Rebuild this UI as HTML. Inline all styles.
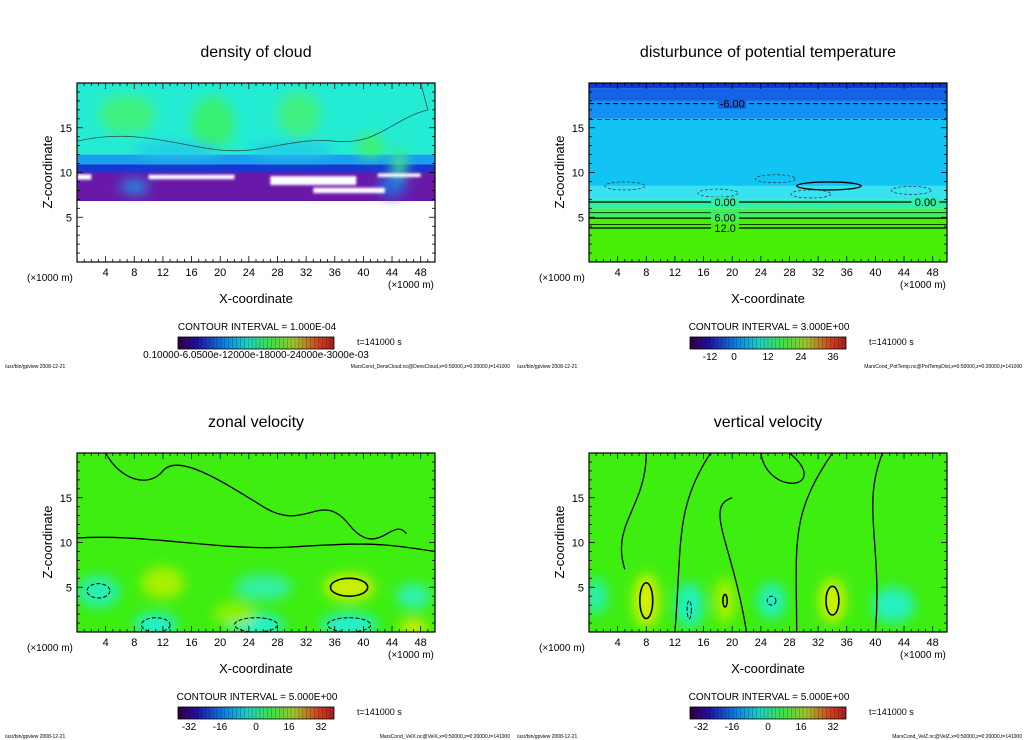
<!DOCTYPE html>
<html><head><meta charset="utf-8">
<style>
body{margin:0;background:#fff;width:1024px;height:740px;overflow:hidden;font-family:"Liberation Sans",sans-serif}
svg{position:absolute;left:0;top:0}
text{font-family:"Liberation Sans",sans-serif;fill:#000}
</style></head><body>
<svg id="s" width="1024" height="740"></svg>
<script>
const xTicks=[4,8,12,16,20,24,28,32,36,40,44,48];
const zTicks=[5,10,15];
const titles=["density of cloud","disturbunce of potential temperature","zonal velocity","vertical velocity"];
const intervals=["1.000E-04","3.000E+00","5.000E+00","5.000E+00"];
const cbLabels=[["0.10000-6.0500e-12000e-18000-24000e-3000e-03"],["-12","0","12","24","36"],["-32","-16","0","16","32"],["-32","-16","0","16","32"]];
const files=["MarsCond_DensCloud.nc@DensCloud,x=0:50000,z=0:20000,t=141000","MarsCond_PotTemp.nc@PotTempDist,x=0:50000,z=0:20000,t=141000","MarsCond_VelX.nc@VelX,x=0:50000,z=0:20000,t=141000","MarsCond_VelZ.nc@VelZ,x=0:50000,z=0:20000,t=141000"];
const bands1=[[12,20,"#24ecd4"],[10.9,12,"#1a9ef0"],[10,10.9,"#1838d0"],[6.8,10,"#6a18a8"],[0,6.8,"#ffffff"]];
const bands2=[[19.4,20,"#1038d0"],[18,19.4,"#1462e6"],[16,18,"#1292f2"],[8.5,16,"#12c4f4"],[7,8.5,"#38e2f0"],[6,7,"#30f0a8"],[5,6,"#40f060"],[0,5,"#48f008"]];
const blobs1=[[7,16.5,4,2.2,"#40f080"],[19,15.5,3,3,"#38f070"],[31,16.5,3,2.5,"#40f080"],[41,13,2,1.3,"#40f070"],[45,11,1,2,"#40e090"],[8,8.4,2,0.8,"#2090e0"],[44,8.5,2,1.2,"#2070e0"],[14,12.5,6,0.8,"#22c8e8"],[30,12.5,6,0.8,"#22c8e8"]];
const gaps1=[[1,9.5,1,0.3],[16,9.5,6,0.25],[33,9.1,6,0.5],[45,9.7,3,0.2],[38,8.0,5,0.3]];
const blobs3=[[3,4.5,3,1.8,"#28f0b0"],[11,0.8,3,1.3,"#20f0d0"],[25,0.8,4,1.3,"#20f0d0"],[38,0.8,4,1.3,"#20f0d0"],[26,5,4,1.5,"#30f0a0"],[47,4,2.5,1.4,"#30f0b0"],[12,5.5,3,1.8,"#a8f000"],[38,5,3.5,1.5,"#d0f000"],[47,0.5,2,0.9,"#d8f000"],[22,2,3,1.3,"#90f000"]];
const blobs4=[[8,3.5,1.8,3,"#d8f000"],[19,3.5,1.5,2.5,"#a8f000"],[34,3.5,1.8,2.5,"#d0f000"],[1,4,1.5,2,"#28f0b0"],[14,3,2,2.5,"#20f0c0"],[25.5,3.5,2,2,"#20f0c0"],[42.5,3,3,2,"#28f0c0"]];
const rings3=[[38,5,2.6,1.0,0],[3,4.6,1.6,0.8,1],[11,0.8,2,0.8,1],[25,0.8,3,0.8,1],[38,0.8,3,0.8,1]];
const rings4=[[8,3.5,0.9,2,0],[19,3.5,0.3,0.7,0],[34,3.5,0.9,1.6,0],[14,2.5,0.3,1,1],[25.5,3.5,0.6,0.5,1]];
const ns="http://www.w3.org/2000/svg";
const S=document.getElementById('s');
function el(t,a,p){const e=document.createElementNS(ns,t);for(const k in a)e.setAttribute(k,a[k]);(p||S).appendChild(e);return e;}
const defs=el('defs',{});
const f=el('filter',{id:'bl',x:'-50%',y:'-50%',width:'200%',height:'200%'},defs);el('feGaussianBlur',{stdDeviation:'6'},f);
const f2=el('filter',{id:'bl2',x:'-20%',y:'-20%',width:'140%',height:'140%'},defs);el('feGaussianBlur',{stdDeviation:'1.2'},f2);
const rg=el('linearGradient',{id:'rb',x1:0,x2:1,y1:0,y2:0},defs);
[["0","#300040"],["0.12","#2010a0"],["0.3","#1080e0"],["0.45","#20d0c0"],["0.6","#40e040"],["0.75","#a0c030"],["0.9","#d04020"],["1","#a02020"]].forEach(s=>el('stop',{offset:s[0],'stop-color':s[1]},rg));
function panel(i,ox,oy){
  const X0=77+ox,X1=435+ox,Y0=83+oy,Y1=262+oy;
  const sx=x=>X0+(X1-X0)*x/50, sz=z=>Y1-(Y1-Y0)*z/20;
  const g=el('g',{});
  
  
  const cp=el('clipPath',{id:'c'+i},defs);el('rect',{x:X0,y:Y0,width:X1-X0,height:Y1-Y0},cp);
  const pg=el('g',{'clip-path':'url(#c'+i+')'},g);
  
  
  const bands=i==0?bands1:i==1?bands2:[[0,20,"#3eee10"]];
  bands.forEach(b=>{const r=el('rect',{x:X0,y:sz(b[1]),width:X1-X0,height:sz(b[0])-sz(b[1]),fill:b[2]},pg);});
  const bl=i==0?blobs1:i==2?blobs3:i==3?blobs4:[];
  const bg=el('g',{filter:'url(#bl)'},pg);
  bl.forEach(b=>{const e=el('ellipse',{cx:sx(b[0]),cy:sz(b[1]),rx:(X1-X0)*b[2]/50,ry:(Y1-Y0)*b[3]/20,fill:b[4]},bg);});
  if(i==0){const gg=el('g',{filter:'url(#bl2)'},pg);gaps1.forEach(b=>{const r=el('rect',{x:sx(b[0]-b[2]),y:sz(b[1]+b[3]),width:sx(b[2]*2)-X0,height:sz(0)-sz(b[3]*2),fill:'#fff'},gg);});
    el('path',{d:`M${X0} ${sz(13.5)} C${sx(8)} ${sz(15)} ${sx(14)} ${sz(13)} ${sx(20)} ${sz(12.5)} S${sx(30)} ${sz(14)} ${sx(36)} ${sz(13.5)} S${sx(44)} ${sz(16)} ${sx(49)} ${sz(17)} L${sx(48)} ${sz(20)}`,fill:'none',stroke:'#205050','stroke-width':0.8},pg);}
  if(i==1){[[17.7,1],[15.9,0.6]].forEach(l=>el('line',{x1:X0,x2:X1,y1:sz(l[0]),y2:sz(l[0]),stroke:'#000','stroke-width':l[1],'stroke-dasharray':'5,3'},pg));
    [[6.7,1.3],[5.5,0.8],[4.9,1.3],[4.2,0.8],[3.8,1.3]].forEach(l=>el('line',{x1:X0,x2:X1,y1:sz(l[0]),y2:sz(l[0]),stroke:'#000','stroke-width':l[1]},pg));
    el('ellipse',{cx:sx(33.5),cy:sz(8.5),rx:(X1-X0)*4.5/50,ry:4,fill:'none',stroke:'#000','stroke-width':1.3},pg);
    [[5,8.5],[18,7.7],[26,9.3],[31,7.6],[45,8]].forEach(p=>el('ellipse',{cx:sx(p[0]),cy:sz(p[1]),rx:20,ry:4,fill:'none',stroke:'#333','stroke-width':0.7,'stroke-dasharray':'3,2'},pg));
    [["-6.00",20,17.7,"#1462e6"],["0.00",19,6.7,"#30f0a8"],["6.00",19,5.0,"#40f060"],["12.0",19,3.8,"#48f008"],["0.00",47,6.7,"#30f0a8"]].forEach(t=>{el('rect',{x:sx(t[1])-14,y:sz(t[2])-5,width:28,height:10,fill:t[3]},pg);const tx=el('text',{x:sx(t[1]),y:sz(t[2])+4,'font-size':11,'text-anchor':'middle'},pg);tx.textContent=t[0];});}
  const rings=i==2?rings3:i==3?rings4:[];
  rings.forEach(r=>{const e=el('ellipse',{cx:sx(r[0]),cy:sz(r[1]),rx:(X1-X0)*r[2]/50,ry:(Y1-Y0)*r[3]/20,fill:'none',stroke:'#000','stroke-width':r[4]?1:1.6,'stroke-dasharray':r[4]?'4,2':'none'},pg);});
  if(i>=2){const zl=i==2?[`M${X0} ${sz(10.5)} C${sx(10)} ${sz(11)} ${sx(20)} ${sz(9)} ${sx(30)} ${sz(9.5)} S${sx(42)} ${sz(10)} ${X1} ${sz(9)}`,`M${sx(4)} ${Y0} C${sx(6)} ${sz(17)} ${sx(10)} ${sz(16)} ${sx(12)} ${sz(18)} S${sx(20)} ${sz(17)} ${sx(26)} ${sz(14)} S${sx(34)} ${sz(16)} ${sx(38)} ${sz(12)} S${sx(44)} ${sz(13)} ${sx(46)} ${sz(11)}`]:
    [`M${sx(8)} ${Y0} C${sx(8)} ${sz(14)} ${sx(3)} ${sz(12)} ${sx(5)} ${sz(7)}`,`M${sx(12)} ${Y1} C${sx(13)} ${sz(10)} ${sx(12)} ${sz(14)} ${sx(17)} ${Y0}`,`M${sx(22)} ${Y1} C${sx(20)} ${sz(10)} ${sx(16)} ${sz(14)} ${sx(20)} ${sz(15)}`,`M${sx(24)} ${Y0} C${sx(25)} ${sz(15)} ${sx(34)} ${sz(16)} ${sx(28)} ${Y0}`,`M${sx(29)} ${Y1} C${sx(29)} ${sz(10)} ${sx(28)} ${sz(13)} ${sx(34)} ${Y0}`,`M${sx(40)} ${Y1} C${sx(41)} ${sz(10)} ${sx(38)} ${sz(14)} ${sx(41)} ${Y0}`];
    zl.forEach(d=>el('path',{d:d,fill:'none',stroke:'#000','stroke-width':1.3},pg));}
  el('rect',{x:X0,y:Y0,width:X1-X0,height:Y1-Y0,fill:'none',stroke:'#000','stroke-width':1.2},g);
  for(let x=1;x<50;x++){const L=x%4==0?6:3;el('line',{x1:sx(x),x2:sx(x),y1:Y1,y2:Y1-L,stroke:'#000','stroke-width':0.8},g);el('line',{x1:sx(x),x2:sx(x),y1:Y0,y2:Y0+L,stroke:'#000','stroke-width':0.8},g);}
  for(let z=1;z<20;z++){const L=z%5==0?6:3;el('line',{x1:X0,x2:X0+L,y1:sz(z),y2:sz(z),stroke:'#000','stroke-width':0.8},g);el('line',{x1:X1,x2:X1-L,y1:sz(z),y2:sz(z),stroke:'#000','stroke-width':0.8},g);}
  xTicks.forEach(v=>{const t=el('text',{x:sx(v),y:Y1+14,'font-size':11,'text-anchor':'middle'},g);t.textContent=v;});
  zTicks.forEach(v=>{const t=el('text',{x:X0-5,y:sz(v)+4,'font-size':11,'text-anchor':'end'},g);t.textContent=v;});
  let t=el('text',{x:256+ox,y:57+oy,'font-size':16,'text-anchor':'middle'},g);t.textContent=titles[i];
  t=el('text',{x:0,y:0,'font-size':13,'text-anchor':'middle',transform:`translate(${52+ox},${172+oy}) rotate(-90)`},g);t.textContent='Z-coordinate';
  t=el('text',{x:27+ox,y:281+oy,'font-size':10},g);t.textContent='(×1000 m)';
  t=el('text',{x:388+ox,y:288+oy,'font-size':10},g);t.textContent='(×1000 m)';
  t=el('text',{x:256+ox,y:303+oy,'font-size':13,'text-anchor':'middle'},g);t.textContent='X-coordinate';
  t=el('text',{x:257+ox,y:330+oy,'font-size':10,'text-anchor':'middle'},g);t.textContent='CONTOUR INTERVAL = '+intervals[i];
  const cb=el('rect',{x:178+ox,y:337+oy,width:156,height:12,fill:'url(#rb)',stroke:'#000','stroke-width':0.8},g);
  for(let k=1;k<40;k++)el('line',{x1:178+ox+k*3.9,x2:178+ox+k*3.9,y1:337+oy,y2:349+oy,stroke:'#000','stroke-width':0.4,opacity:0.5},g);
  const cl=cbLabels[i];
  if(cl.length==1){t=el('text',{x:256+ox,y:358+oy,'font-size':10,'text-anchor':'middle'},g);t.textContent=cl[0];}
  else cl.forEach((s,k)=>{const c=i==1?[198,222,256,289,321][k]:[189,220,256,289,321][k];t=el('text',{x:c+ox,y:360+oy,'font-size':10,'text-anchor':'middle'},g);t.textContent=s;});
  t=el('text',{x:357+ox,y:345+oy,'font-size':9,fill:'#444'},g);t.textContent='t=141000 s';
  t=el('text',{x:5+ox,y:368+oy,'font-size':5},g);t.textContent='/usr/bin/gpview   2008-12-21';
  t=el('text',{x:510+ox,y:368+oy,'font-size':5,'text-anchor':'end'},g);t.textContent=files[i];
}
panel(0,0,0);panel(1,512,0);panel(2,0,370);panel(3,512,370);
</script>
</body></html>
